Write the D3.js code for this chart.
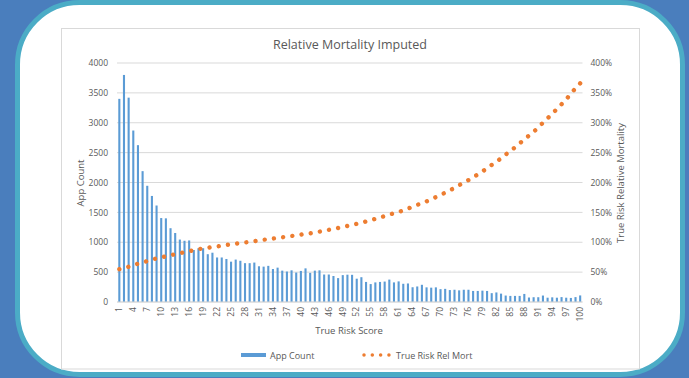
<!DOCTYPE html>
<html>
<head>
<meta charset="utf-8">
<script src="https://cdn.jsdelivr.net/npm/d3@7"></script>
<style>
    body { margin: 0; background: #4a7ebd; }
    svg { display: block; }
    text { font-family: "Open Sans", sans-serif; fill: #595959; }
</style>
</head>
<body>
<div id="chart"></div>
<script>
//Chart data
const categories = [1,2,3,4,5,6,7,8,9,10,11,12,13,14,15,16,17,18,19,20,21,22,23,24,25,26,27,28,29,30,
    31,32,33,34,35,36,37,38,39,40,41,42,43,44,45,46,47,48,49,50,51,52,53,54,55,56,57,58,59,60,
    61,62,63,64,65,66,67,68,69,70,71,72,73,74,75,76,77,78,79,80,81,82,83,84,85,86,87,88,89,90,
    91,92,93,94,95,96,97,98,99,100];

const appCount = [3400,3800,3420,2870,2625,2190,1945,1775,1615,1405,1400,1235,1155,1045,1025,1030,870,900,900,800,
    825,745,745,720,675,710,690,650,650,660,598,592,605,552,575,525,510,530,493,520,
    563,488,525,530,460,460,435,400,450,457,455,390,415,336,300,328,336,342,375,328,
    345,305,310,247,260,288,245,240,245,215,220,200,205,195,205,205,185,185,190,185,
    148,160,140,108,102,102,102,135,75,80,80,108,72,78,72,82,72,68,82,110];

const relMort = [0.55,0.57,0.59,0.62,0.64,0.66,0.685,0.71,0.73,0.747,0.764,0.783,0.80,0.817,0.833,0.85,0.867,0.883,0.898,0.908,
    0.92,0.93,0.943,0.955,0.965,0.975,0.986,0.996,1.006,1.018,1.03,1.041,1.052,1.062,1.072,1.083,1.094,1.105,1.117,1.128,
    1.14,1.15,1.162,1.178,1.194,1.208,1.223,1.239,1.256,1.273,1.291,1.308,1.326,1.348,1.37,1.392,1.415,1.438,1.463,1.485,
    1.505,1.535,1.565,1.593,1.625,1.653,1.685,1.72,1.755,1.79,1.83,1.87,1.91,1.955,1.995,2.04,2.085,2.135,2.185,2.24,
    2.295,2.348,2.405,2.468,2.525,2.588,2.655,2.72,2.785,2.85,2.92,3.00,3.075,3.15,3.23,3.31,3.39,3.49,3.575,3.66];

const xTickLabels = [1,4,7,10,13,16,19,22,25,28,31,34,37,40,43,46,49,52,55,58,61,64,67,70,73,76,79,82,85,88,91,94,97,100];
const leftTicks = [0,500,1000,1500,2000,2500,3000,3500,4000];
const rightTicks = [0,0.5,1,1.5,2,2.5,3,3.5,4];

const W = 689, H = 378;
//Plot area inside the chart
const margin = {left: 117, right: 106.5, top: 63, bottom: 76};
const width = W - margin.left - margin.right;
const height = H - margin.top - margin.bottom;

const svg = d3.select("#chart")
    .append("svg")
    .attr("width", W)
    .attr("height", H);

//Rounded white panel with teal border
svg.append("rect")
    .attr("x", 17.5).attr("y", 2.5)
    .attr("width", 665).attr("height", 372)
    .attr("rx", 62).attr("ry", 62)
    .attr("fill", "#ffffff")
    .attr("stroke", "#4bacc6")
    .attr("stroke-width", 5);

//Chart border
svg.append("rect")
    .attr("x", 61.5).attr("y", 28.5)
    .attr("width", 578).attr("height", 340.5)
    .attr("fill", "none")
    .attr("stroke", "#d9d9d9");

svg.append("text")
    .attr("x", 350).attr("y", 48.5)
    .attr("text-anchor", "middle")
    .style("font-size", "12.5px")
    .text("Relative Mortality Imputed");

const g = svg.append("g")
    .attr("transform", `translate(${margin.left},${margin.top})`);

const xScale = d3.scaleBand()
    .domain(categories)
    .range([0, width])
    .paddingInner(0.55)
    .paddingOuter(0.275);

const yScale = d3.scaleLinear()
    .domain([0, 4000])
    .range([height, 0]);

const y2Scale = d3.scaleLinear()
    .domain([0, 4])
    .range([height, 0]);

//Gridlines
g.append("g")
    .selectAll("line")
    .data(leftTicks)
    .join("line")
    .attr("x1", 0).attr("x2", width)
    .attr("y1", d => yScale(d)).attr("y2", d => yScale(d))
    .attr("stroke", "#d9d9d9")
    .attr("stroke-width", 1);

//Left axis
const yAxis = g.append("g")
    .call(d3.axisLeft(yScale).tickValues(leftTicks).tickFormat(d3.format("d")).tickSize(0).tickPadding(9));
yAxis.select(".domain").remove();
yAxis.selectAll("text").style("font-size", "8.5px").attr("fill", "#595959");

//Right axis
const y2Axis = g.append("g")
    .attr("transform", `translate(${width},0)`)
    .call(d3.axisRight(y2Scale).tickValues(rightTicks).tickFormat(d3.format(".0%")).tickSize(0).tickPadding(8));
y2Axis.select(".domain").remove();
y2Axis.selectAll("text").style("font-size", "8.5px").attr("fill", "#595959");

//Bars
g.append("g")
    .selectAll("rect")
    .data(appCount)
    .join("rect")
    .attr("x", (d, i) => xScale(categories[i]))
    .attr("y", d => yScale(d))
    .attr("width", xScale.bandwidth())
    .attr("height", d => height - yScale(d))
    .attr("fill", "#5b9bd5");

//Baseline
g.append("line")
    .attr("x1", 0).attr("x2", width)
    .attr("y1", height).attr("y2", height)
    .attr("stroke", "#d9d9d9");

//X axis labels, every third category
const xAxis = g.append("g")
    .attr("transform", `translate(0,${height})`)
    .call(d3.axisBottom(xScale).tickValues(xTickLabels).tickSize(0).tickPadding(0));
xAxis.select(".domain").remove();
xAxis.selectAll("text")
    .style("font-size", "8.5px")
    .attr("fill", "#595959")
    .attr("text-anchor", "end")
    .attr("transform", "translate(0,5) rotate(-90)")
    .attr("x", 0).attr("y", 0)
    .attr("dy", "0.32em");

//Dotted line series
const line = d3.line()
    .x((d, i) => xScale(categories[i]) + xScale.bandwidth() / 2)
    .y(d => y2Scale(d))
    .curve(d3.curveMonotoneX);

const mortPath = g.append("path")
    .datum(relMort)
    .attr("fill", "none")
    .attr("stroke", "#ed7d31")
    .attr("stroke-width", 4.4)
    .attr("stroke-linecap", "round")
    .attr("d", line);

//Spread the dots so one lands on each end of the line
const pathLen = mortPath.node().getTotalLength();
const nDots = Math.round(pathLen / 9.3);
const gap = (pathLen - 0.1) / nDots;
mortPath.attr("stroke-dasharray", `0.01 ${gap - 0.01}`);

//Axis titles
svg.append("text")
    .attr("transform", "translate(84,183) rotate(-90)")
    .attr("text-anchor", "middle")
    .style("font-size", "9.5px")
    .text("App Count");

svg.append("text")
    .attr("transform", "translate(624,183) rotate(-90)")
    .attr("text-anchor", "middle")
    .style("font-size", "9.5px")
    .text("True Risk Relative Mortality");

svg.append("text")
    .attr("x", 349).attr("y", 333.5)
    .attr("text-anchor", "middle")
    .style("font-size", "9.5px")
    .text("True Risk Score");

//Legend
const legend = svg.append("g");
legend.append("rect")
    .attr("x", 241).attr("y", 353)
    .attr("width", 25).attr("height", 4)
    .attr("fill", "#5b9bd5");
legend.append("text")
    .attr("x", 270).attr("y", 358.5)
    .style("font-size", "9px")
    .text("App Count");
legend.append("line")
    .attr("x1", 364).attr("x2", 389)
    .attr("y1", 355).attr("y2", 355)
    .attr("stroke", "#ed7d31")
    .attr("stroke-width", 3.5)
    .attr("stroke-linecap", "round")
    .attr("stroke-dasharray", "0.01 8.3");
legend.append("text")
    .attr("x", 396).attr("y", 358.5)
    .style("font-size", "9px")
    .text("True Risk Rel Mort");
</script>
</body>
</html>
